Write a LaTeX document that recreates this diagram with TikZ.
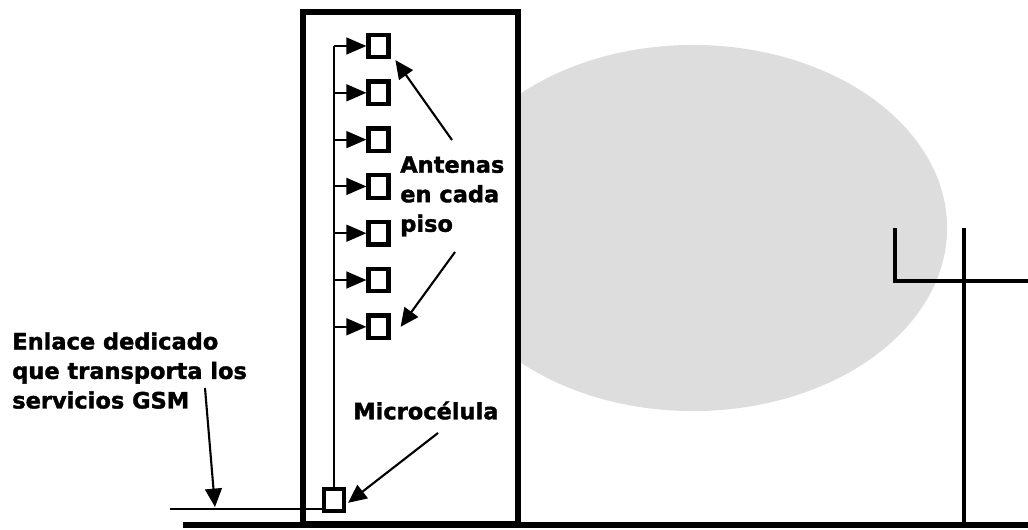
\documentclass[tikz,border=0pt]{standalone}
\usepackage{fontspec}
\setmainfont{DejaVu Sans}[BoldFeatures={FakeBold=1.6}]
\usetikzlibrary{arrows.meta}
\definecolor{celda}{HTML}{DDDDDD}
\tikzset{
    antena/.style={draw, line width=3pt, fill=white, inner sep=0pt,
        minimum width=0.5cm, minimum height=0.56cm},
    rotulo/.style={font=\bfseries\fontsize{16}{21}\selectfont, align=left,
        inner sep=0pt, anchor=north west},
    puntero/.style={-{Triangle[length=4.6mm,width=4.2mm]}, line width=1.5pt},
    ramal/.style={-{Triangle[length=5mm,width=4.2mm]}, line width=1.5pt}
}
\begin{document}
\begin{tikzpicture}[x=0.025cm, y=-0.025cm]
    \useasboundingbox (0,0) rectangle (1028,529);

    % Cell coverage
    \fill[celda] (693,228) ellipse [x radius=6.35cm, y radius=4.575cm];

    % Building
    \draw[line width=4pt, fill=white] (303,12) rectangle (518,524);

    % Ground
    \draw[line width=4pt] (183,525) -- (1028,525);

    % Outdoor mast
    \draw[line width=3pt] (964,228) -- (964,524);
    \draw[line width=3pt] (895,228) -- (895,281) -- (1028,281);

    % Antennas and microcell
    \foreach \i in {1,...,7}
        \node[antena] (ant\i) at (378.5, {46+46.8*(\i-1)}) {};
    \node[antena] (micro) at (334,500) {};

    % Feeder
    \coordinate (tope) at (334,46);
    \draw[line width=1.5pt] (tope) -- (micro.north);
    \foreach \i in {1,...,7}
        \draw[ramal] (tope |- ant\i) -- (ant\i.west);

    % Dedicated link
    \coordinate (enlIni) at (170,509);
    \draw[line width=1pt] (enlIni) -- (enlIni -| micro.west);

    % Labels
    \node[rotulo] (enlace) at (12,332) {Enlace dedicado\\que transporta los\\servicios GSM};
    \node[rotulo] (antenas) at (400,156) {Antenas\\en cada\\piso};
    \node[rotulo] (microLbl) at (353,401) {Microcélula};

    % Pointers
    \coordinate (enlPta) at (205,388);
    \coordinate (enlFin) at (215,507);
    \draw[puntero] (enlPta) -- (enlFin);
    \coordinate (micPta) at (438,433);
    \draw[puntero] (micPta) -- ([xshift=0.05cm,yshift=-0.07cm]micro.east);
    \coordinate (antPta1) at (452,140);
    \draw[puntero] (antPta1) -- ([xshift=0.12cm,yshift=-0.02cm]ant1.south east);
    \coordinate (antPta2) at (455,252);
    \draw[puntero] (antPta2) -- ([xshift=0.25cm]ant7.east);
\end{tikzpicture}
\end{document}
